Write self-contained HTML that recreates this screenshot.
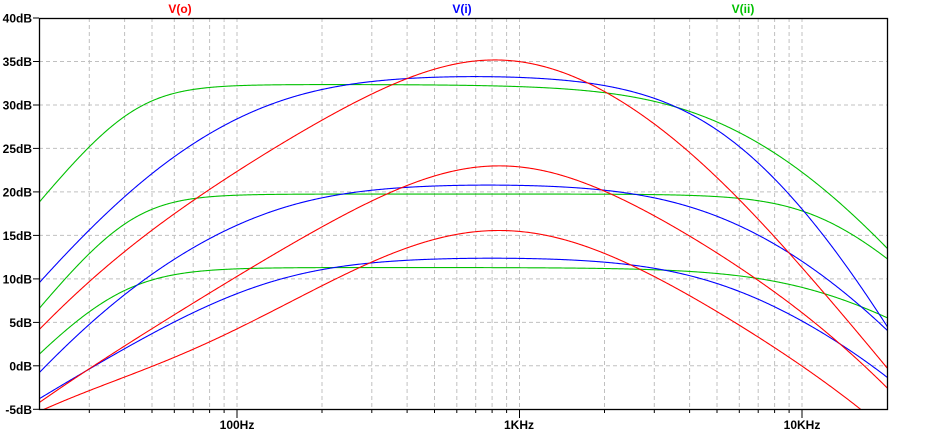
<!DOCTYPE html>
<html><head><meta charset="utf-8"><style>
html,body{margin:0;padding:0;background:#fff;}
svg{display:block;font-family:"Liberation Sans",Arial,sans-serif;}
</style></head><body>
<svg id="s" width="938" height="435" viewBox="0 0 938 435" xmlns="http://www.w3.org/2000/svg">
<g id="grid" stroke="#c0c0c0" stroke-width="1" stroke-dasharray="4,3"></g>
<g id="ticks" stroke="#000" stroke-width="1"></g>
<g id="labels" font-size="12" font-weight="bold" fill="#000"></g>
<text x="180" y="13" fill="#ff0000" font-size="12" font-weight="bold" text-anchor="middle">V(o)</text>
<text x="462" y="13" fill="#0000ff" font-size="12" font-weight="bold" text-anchor="middle">V(i)</text>
<text x="743" y="13" fill="#00c000" font-size="12" font-weight="bold" text-anchor="middle">V(ii)</text>
<defs><clipPath id="c"><rect x="39" y="18" width="848" height="391"/></clipPath></defs>
<g id="curves" clip-path="url(#c)" fill="none" stroke-width="1.1"></g>
<rect x="39.5" y="18.5" width="848" height="391" fill="none" stroke="#000" stroke-width="1.3"/>
</svg>
<script>
var ns="http://www.w3.org/2000/svg";
function el(p,t,a,txt){var e=document.createElementNS(ns,t);for(var k in a)e.setAttribute(k,a[k]);if(txt)e.textContent=txt;document.getElementById(p).appendChild(e);}
function X(f){return 237+282.5*Math.log10(f/100);}
for(var i=0;i<=9;i++){var y=18+i*43.48;var db=40-5*i;
 if(i>0&&i<9)el("grid","line",{x1:39,x2:887,y1:y.toFixed(1),y2:y.toFixed(1)});
 el("ticks","line",{x1:33,x2:39,y1:y.toFixed(1),y2:y.toFixed(1)});
 el("labels","text",{x:32,y:(y+4.5).toFixed(1),"text-anchor":"end"},db+"dB");}
[10,100,1000,10000].forEach(function(d){for(var m=1;m<=9;m++){var f=d*m;var x=X(f);
 if(x<40||x>886)continue;
 el("grid","line",{x1:x.toFixed(1),x2:x.toFixed(1),y1:18,y2:409});
 el("ticks","line",{x1:x.toFixed(1),x2:x.toFixed(1),y1:409,y2:m==1?418:413});}});
el("labels","text",{x:237,y:429,"text-anchor":"middle"},"100Hz");
el("labels","text",{x:519,y:429,"text-anchor":"middle"},"1KHz");
el("labels","text",{x:802,y:429,"text-anchor":"middle"},"10KHz");
function L(v){return 10*Math.log10(v);}
function gain(A,terms,f){var g=A;
 terms.forEach(function(t){
  if(t[0]=="hp")g-=L(1+Math.pow(t[1]/f,2*t[2]));
  else if(t[0]=="lp")g-=L(1+Math.pow(f/t[1],2*t[2]));
  else if(t[0]=="bp"){var q=t[2]*(f/t[1]-t[1]/f);g-=L(1+q*q);}
  else if(t[0]=="sh")g+=L((1+Math.pow(t[1]/f,2))/(1+Math.pow(t[2]/f,2)));
 });return g;}
function curve(A,terms,col){
 var d="";
 for(var x=36;x<=890;x+=1){var f=100*Math.pow(10,(x-237)/282.5);var y=366.3-8.7*gain(A,terms,f);
  d+=(x==36?"M":"L")+x+","+y.toFixed(2)+" ";}
 el("curves","path",{d:d,stroke:col,"stroke-linejoin":"round"});}
var G="#00c000",B="#0000ff",R="#ff0000";
curve(32.4,[["hp",43,2],["lp",4300,1],["lp",13000,1]],G);
curve(19.8,[["hp",42,2],["lp",12100,1.5]],G);
curve(11.36,[["hp",38,1.7],["lp",12000,1]],G);
curve(33.65,[["hp",135,1],["hp",42,1],["lp",5000,1],["lp",5000,1],["lp",15000,1]],B);
curve(21.1,[["hp",135,1],["hp",30,1],["lp",4500,1],["lp",17000,1]],B);
curve(12.65,[["hp",130,1],["lp",5000,1],["lp",30000,1]],B);
curve(35.4,[["bp",850,0.5],["hp",27.4,1],["lp",4000,1]],R);
curve(23.05,[["bp",850,0.5],["hp",8,1],["lp",16000,1]],R);
curve(15.6,[["bp",850,0.47],["sh",55,25],["lp",25000,1]],R);
</script>
</body></html>
